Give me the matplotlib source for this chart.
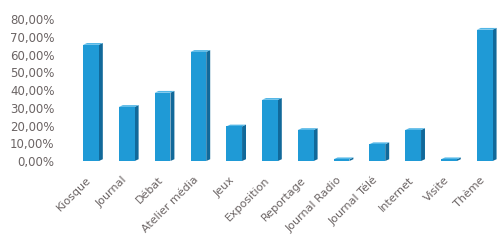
import matplotlib.pyplot as plt
import matplotlib.transforms as mtransforms
import numpy as np

categories = ["Kiosque", "Journal", "Débat", "Atelier média", "Jeux", "Exposition",
              "Reportage", "Journal Radio", "Journal Télé", "Internet", "Visite", "Thème"]
values = [0.655, 0.305, 0.385, 0.615, 0.195, 0.345, 0.175, 0.01, 0.095, 0.175, 0.01, 0.74]

front = "#1f9ad6"
side = "#11699a"
top = "#52b6e6"

fig = plt.figure(figsize=(4.98, 2.46), dpi=100)
ax = fig.add_axes([60 / 498, 0.3455, 438 / 498, 0.577])

x = np.arange(len(categories))
w = 0.44
dx, dy = 0.11, 0.01

# fake 3D: side + top faces behind the front face
for xi, v in zip(x, values):
    ax.add_patch(plt.Polygon([(xi + w / 2, 0), (xi + w / 2 + dx, dy), (xi + w / 2 + dx, v + dy), (xi + w / 2, v)],
                             color=side, lw=0))
    ax.add_patch(plt.Polygon([(xi - w / 2, v), (xi - w / 2 + dx, v + dy), (xi + w / 2 + dx, v + dy), (xi + w / 2, v)],
                             color=top, lw=0))
ax.bar(x, values, width=w, color=front, lw=0)

ax.set_xlim(-0.866, 11.37)
ax.set_ylim(0, 0.8)
ax.set_yticks(np.arange(0, 0.81, 0.1))
ax.set_yticklabels([f"{t * 100:.2f}%".replace(".", ",") for t in np.arange(0, 0.81, 0.1)])
ax.set_xticks(x)
ax.set_xticklabels(categories, rotation=45, ha="right", rotation_mode="anchor")
ax.tick_params(length=0, colors="#6b6464", labelsize=8.5, pad=4)
ax.tick_params(axis="x", labelsize=8, pad=10)
shift = mtransforms.ScaledTranslation(-5 / 100, 0, fig.dpi_scale_trans)
for lab in ax.get_xticklabels():
    lab.set_transform(lab.get_transform() + shift)
for s in ax.spines.values():
    s.set_visible(False)

fig.savefig("out.png", dpi=100)
